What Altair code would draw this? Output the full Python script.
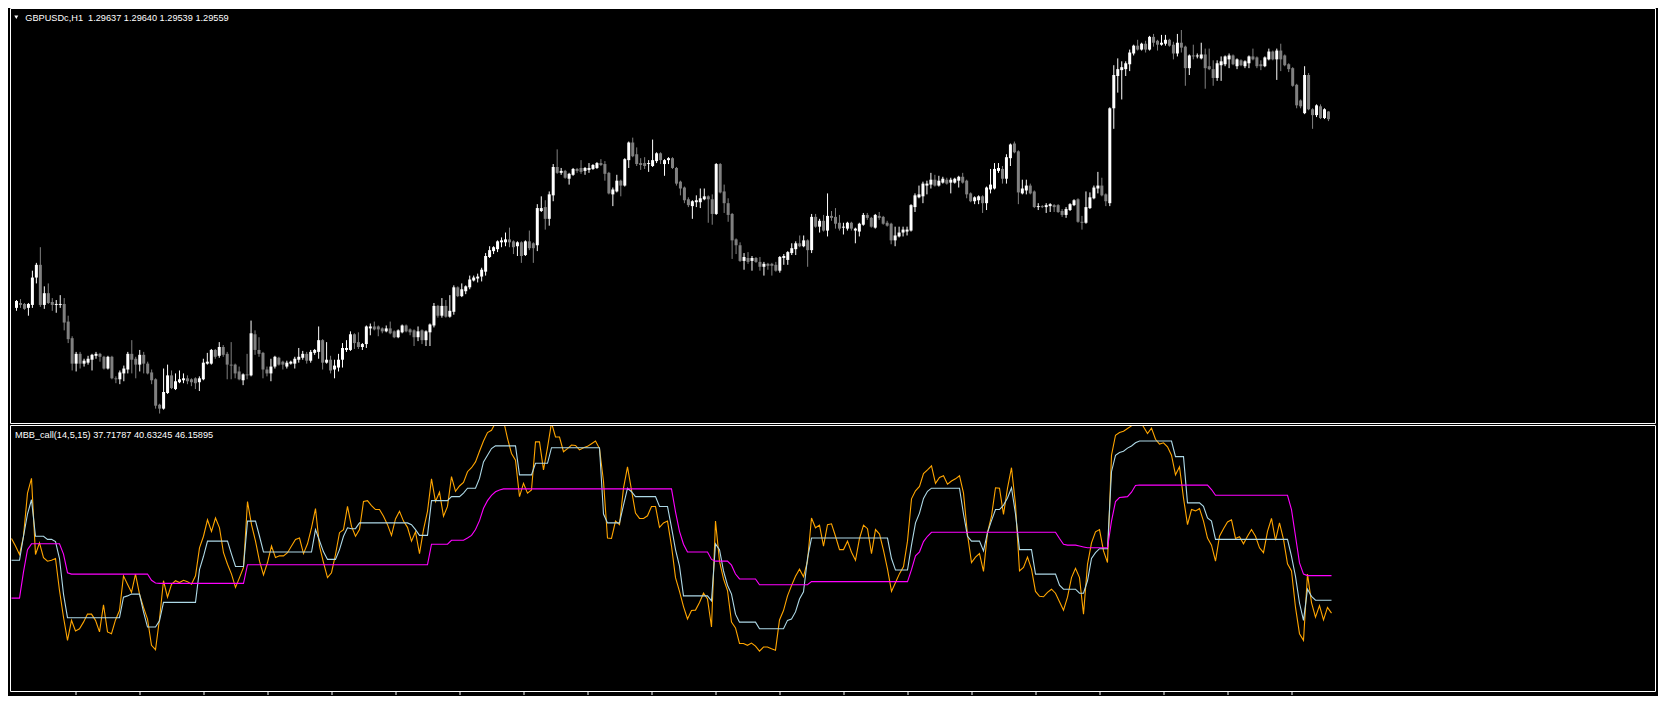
import altair as alt
import numpy as np
import pandas as pd

SYMBOL = "GBPUSDc,H1"
IND_NAME = "MBB_call(14,5,15)"

# GBPUSD H1 candles, prices in pips (price * 10000)
OPEN_PIPS = [
    12763, 12768, 12767, 12763, 12766, 12794, 12807, 12766, 12778, 12769,  # 0
    12766, 12766, 12767, 12749, 12732, 12706, 12716, 12706, 12707, 12710,  # 10
    12714, 12716, 12713, 12701, 12713, 12691, 12690, 12696, 12700, 12716,  # 20
    12711, 12705, 12715, 12706, 12697, 12690, 12664, 12660, 12676, 12694,  # 30
    12680, 12687, 12689, 12691, 12690, 12691, 12687, 12690, 12706, 12706,  # 40
    12720, 12714, 12723, 12716, 12705, 12705, 12698, 12689, 12695, 12694,  # 50
    12736, 12720, 12717, 12700, 12696, 12703, 12712, 12708, 12703, 12706,  # 60
    12706, 12710, 12712, 12716, 12709, 12717, 12718, 12730, 12707, 12710,  # 70
    12700, 12702, 12710, 12720, 12720, 12736, 12728, 12723, 12726, 12742,  # 80
    12744, 12744, 12742, 12739, 12742, 12739, 12733, 12738, 12745, 12741,  # 90
    12740, 12733, 12740, 12730, 12738, 12745, 12765, 12755, 12765, 12754,  # 100
    12759, 12784, 12775, 12780, 12784, 12791, 12793, 12795, 12800, 12815,  # 110
    12821, 12823, 12830, 12830, 12833, 12831, 12826, 12830, 12817, 12831,  # 120
    12829, 12827, 12862, 12866, 12854, 12878, 12907, 12901, 12903, 12895,  # 130
    12899, 12905, 12906, 12903, 12904, 12905, 12906, 12911, 12910, 12901,  # 140
    12879, 12882, 12893, 12888, 12914, 12932, 12920, 12911, 12911, 12910,  # 150
    12908, 12913, 12921, 12910, 12914, 12916, 12906, 12892, 12886, 12874,  # 160
    12867, 12871, 12871, 12874, 12877, 12874, 12859, 12910, 12882, 12870,  # 170
    12859, 12833, 12827, 12811, 12814, 12811, 12814, 12810, 12805, 12808,  # 180
    12808, 12807, 12801, 12814, 12812, 12819, 12823, 12829, 12826, 12832,  # 190
    12822, 12856, 12846, 12852, 12842, 12857, 12856, 12850, 12845, 12844,  # 200
    12850, 12842, 12841, 12848, 12858, 12855, 12845, 12857, 12856, 12850,  # 210
    12849, 12832, 12836, 12840, 12841, 12842, 12866, 12876, 12877, 12888,  # 220
    12889, 12894, 12888, 12891, 12894, 12891, 12891, 12893, 12897, 12893,  # 230
    12880, 12872, 12873, 12877, 12870, 12884, 12885, 12903, 12905, 12895,  # 240
    12916, 12931, 12923, 12880, 12883, 12888, 12882, 12866, 12867, 12866,  # 250
    12867, 12868, 12868, 12862, 12858, 12863, 12868, 12874, 12851, 12850,  # 260
    12865, 12875, 12885, 12888, 12879, 12870, 12967, 13000, 13006, 13007,  # 270
    13012, 13023, 13031, 13027, 13033, 13027, 13040, 13036, 13032, 13033,  # 280
    13037, 13032, 13023, 13034, 13030, 13008, 13021, 13020, 13018, 13022,  # 290
    13010, 13007, 12998, 13011, 13012, 13017, 13021, 13010, 13016, 13010,  # 300
    13013, 13020, 13019, 13012, 13010, 13017, 13025, 13017, 13026, 13021,  # 310
    13012, 13008, 12991, 12975, 12962, 13001, 12966, 12960, 12969, 12957,  # 320
    12963.7,  # 330
]
HIGH_PIPS = [
    12771, 12772, 12768, 12768, 12801, 12809, 12825, 12785, 12788, 12773,  # 0
    12771, 12776, 12773, 12755, 12734, 12718, 12718, 12711, 12714, 12716,  # 10
    12718, 12717, 12714, 12714, 12714, 12693, 12699, 12704, 12718, 12730,  # 20
    12713, 12720, 12718, 12708, 12700, 12691, 12665, 12701, 12705, 12699,  # 30
    12696, 12699, 12696, 12694, 12691, 12692, 12693, 12711, 12717, 12721,  # 40
    12721, 12728, 12725, 12718, 12728, 12706, 12703, 12696, 12716, 12750,  # 50
    12740, 12733, 12718, 12703, 12711, 12714, 12713, 12709, 12709, 12709,  # 60
    12713, 12722, 12719, 12718, 12720, 12721, 12744, 12731, 12728, 12714,  # 70
    12710, 12716, 12727, 12730, 12739, 12737, 12738, 12727, 12745, 12747,  # 80
    12749, 12745, 12743, 12745, 12749, 12740, 12741, 12746, 12746, 12742,  # 90
    12741, 12744, 12741, 12740, 12747, 12768, 12766, 12773, 12771, 12776,  # 100
    12786, 12785, 12788, 12786, 12796, 12796, 12798, 12804, 12819, 12826,  # 110
    12826, 12832, 12835, 12840, 12845, 12832, 12831, 12831, 12832, 12842,  # 120
    12830, 12869, 12877, 12873, 12882, 12910, 12925, 12906, 12904, 12901,  # 130
    12906, 12906, 12914, 12907, 12911, 12910, 12912, 12915, 12913, 12902,  # 140
    12886, 12899, 12894, 12916, 12933, 12937, 12927, 12916, 12917, 12914,  # 150
    12935, 12922, 12922, 12915, 12917, 12917, 12907, 12893, 12887, 12876,  # 160
    12873, 12878, 12885, 12885, 12878, 12879, 12911, 12911, 12889, 12875,  # 170
    12860, 12834, 12830, 12819, 12820, 12816, 12815, 12815, 12810, 12809,  # 180
    12809, 12810, 12816, 12818, 12821, 12829, 12831, 12837, 12837, 12833,  # 190
    12859, 12859, 12854, 12858, 12880, 12862, 12865, 12858, 12850, 12851,  # 200
    12851, 12845, 12850, 12860, 12860, 12856, 12859, 12861, 12857, 12852,  # 210
    12850, 12846, 12846, 12846, 12846, 12869, 12880, 12888, 12892, 12893,  # 220
    12901, 12899, 12898, 12897, 12896, 12896, 12896, 12898, 12901, 12894,  # 230
    12881, 12877, 12878, 12878, 12887, 12905, 12911, 12911, 12908, 12920,  # 240
    12931, 12933, 12924, 12894, 12894, 12890, 12883, 12870, 12868, 12870,  # 250
    12870, 12869, 12869, 12864, 12866, 12870, 12874, 12875, 12857, 12882,  # 260
    12881, 12888, 12902, 12896, 12880, 12968, 13011, 13018, 13015, 13015,  # 270
    13027, 13032, 13037, 13034, 13036, 13041, 13043, 13037, 13042, 13042,  # 280
    13038, 13035, 13043, 13047, 13031, 13022, 13032, 13023, 13034, 13028,  # 290
    13028, 13016, 13016, 13020, 13021, 13023, 13022, 13018, 13017, 13016,  # 300
    13021, 13028, 13020, 13016, 13020, 13028, 13026, 13028, 13033, 13022,  # 310
    13013, 13009, 12992, 12976, 13010, 13003, 12967, 12971, 12971, 12967,  # 320
    12964.0,  # 330
]
LOW_PIPS = [
    12760, 12763, 12761, 12755, 12763, 12788, 12764, 12762, 12767, 12760,  # 0
    12758, 12763, 12740, 12727, 12699, 12698, 12701, 12703, 12705, 12699,  # 10
    12711, 12708, 12700, 12700, 12690, 12686, 12685, 12688, 12696, 12696,  # 20
    12691, 12698, 12696, 12695, 12685, 12660, 12655, 12659, 12675, 12680,  # 30
    12679, 12686, 12686, 12685, 12683, 12680, 12678, 12689, 12705, 12705,  # 40
    12711, 12712, 12713, 12690, 12690, 12691, 12689, 12684, 12690, 12693,  # 50
    12715, 12713, 12691, 12693, 12688, 12701, 12704, 12700, 12701, 12705,  # 60
    12701, 12707, 12710, 12706, 12707, 12715, 12711, 12700, 12706, 12696,  # 70
    12691, 12698, 12702, 12718, 12719, 12721, 12721, 12720, 12722, 12735,  # 80
    12740, 12734, 12737, 12738, 12736, 12732, 12732, 12737, 12738, 12735,  # 90
    12724, 12729, 12726, 12724, 12724, 12743, 12753, 12753, 12753, 12753,  # 100
    12756, 12774, 12774, 12777, 12782, 12790, 12789, 12790, 12796, 12814,  # 110
    12818, 12820, 12825, 12826, 12825, 12818, 12816, 12809, 12816, 12822,  # 120
    12809, 12821, 12861, 12843, 12847, 12872, 12900, 12899, 12895, 12889,  # 130
    12898, 12901, 12900, 12899, 12901, 12904, 12905, 12908, 12893, 12879,  # 140
    12867, 12881, 12877, 12887, 12906, 12917, 12908, 12904, 12905, 12902,  # 150
    12907, 12911, 12910, 12898, 12910, 12905, 12888, 12878, 12870, 12866,  # 160
    12854, 12866, 12865, 12873, 12850, 12848, 12858, 12880, 12860, 12851,  # 170
    12813, 12818, 12810, 12802, 12808, 12801, 12809, 12801, 12796, 12802,  # 180
    12796, 12800, 12799, 12807, 12807, 12817, 12817, 12825, 12825, 12805,  # 190
    12819, 12845, 12840, 12841, 12836, 12852, 12844, 12842, 12838, 12842,  # 200
    12842, 12829, 12836, 12847, 12853, 12845, 12844, 12853, 12848, 12846,  # 210
    12828, 12826, 12835, 12836, 12837, 12841, 12861, 12875, 12870, 12879,  # 220
    12885, 12887, 12887, 12890, 12889, 12880, 12890, 12886, 12890, 12875,  # 230
    12871, 12869, 12869, 12860, 12863, 12880, 12884, 12901, 12890, 12890,  # 240
    12908, 12921, 12869, 12879, 12879, 12879, 12865, 12863, 12865, 12860,  # 250
    12861, 12861, 12860, 12856, 12855, 12862, 12867, 12850, 12843, 12849,  # 260
    12864, 12874, 12880, 12877, 12867, 12867, 12946, 12983, 12976, 13000,  # 270
    13005, 13021, 13026, 13026, 13024, 13026, 13030, 13026, 13031, 13031,  # 280
    13030, 13017, 13020, 13024, 12990, 13001, 13017, 13018, 13017, 12987,  # 290
    13006, 12990, 12995, 12995, 13010, 13008, 13011, 13007, 13010, 13008,  # 300
    13008, 13016, 13008, 13006, 13009, 13016, 13016, 12996, 13005, 13010,  # 310
    13004, 12989, 12967, 12967, 12961, 12965, 12946, 12958, 12956, 12956,  # 320
    12953.9,  # 330
]
CLOSE_PIPS = [
    12770, 12766, 12762, 12767, 12794, 12807, 12766, 12778, 12768, 12766,  # 0
    12767, 12767, 12748, 12731, 12706, 12716, 12706, 12709, 12711, 12715,  # 10
    12716, 12713, 12701, 12713, 12691, 12690, 12697, 12701, 12716, 12710,  # 20
    12705, 12715, 12706, 12696, 12689, 12663, 12660, 12677, 12694, 12681,  # 30
    12688, 12690, 12691, 12688, 12687, 12686, 12691, 12707, 12708, 12720,  # 40
    12713, 12723, 12715, 12705, 12704, 12696, 12690, 12695, 12694, 12737,  # 50
    12720, 12716, 12700, 12696, 12703, 12713, 12705, 12705, 12707, 12708,  # 60
    12711, 12713, 12716, 12709, 12718, 12720, 12730, 12707, 12710, 12699,  # 70
    12704, 12710, 12722, 12722, 12736, 12727, 12723, 12726, 12744, 12744,  # 80
    12741, 12741, 12739, 12742, 12737, 12733, 12740, 12745, 12739, 12738,  # 90
    12733, 12739, 12730, 12739, 12746, 12765, 12755, 12765, 12754, 12760,  # 100
    12784, 12775, 12782, 12785, 12792, 12794, 12795, 12802, 12816, 12822,  # 110
    12825, 12831, 12832, 12833, 12830, 12825, 12830, 12816, 12831, 12824,  # 120
    12824, 12865, 12865, 12854, 12879, 12907, 12901, 12903, 12896, 12900,  # 130
    12905, 12903, 12902, 12906, 12906, 12909, 12911, 12909, 12900, 12880,  # 140
    12884, 12893, 12888, 12915, 12932, 12918, 12910, 12909, 12908, 12911,  # 150
    12914, 12921, 12914, 12914, 12916, 12906, 12890, 12885, 12873, 12868,  # 160
    12872, 12873, 12875, 12877, 12874, 12859, 12910, 12881, 12870, 12858,  # 170
    12832, 12827, 12811, 12815, 12810, 12814, 12810, 12805, 12808, 12806,  # 180
    12806, 12801, 12815, 12816, 12820, 12824, 12829, 12826, 12832, 12822,  # 190
    12856, 12846, 12852, 12842, 12857, 12855, 12849, 12844, 12846, 12850,  # 200
    12844, 12844, 12849, 12858, 12855, 12846, 12858, 12855, 12849, 12847,  # 210
    12832, 12837, 12840, 12843, 12843, 12868, 12878, 12879, 12890, 12890,  # 220
    12894, 12888, 12893, 12895, 12890, 12894, 12895, 12897, 12891, 12879,  # 230
    12872, 12876, 12877, 12870, 12886, 12889, 12905, 12906, 12895, 12917,  # 240
    12930, 12922, 12881, 12885, 12888, 12880, 12866, 12867, 12866, 12868,  # 250
    12869, 12866, 12861, 12858, 12864, 12869, 12873, 12851, 12850, 12866,  # 260
    12876, 12886, 12888, 12878, 12872, 12967, 13001, 13007, 13009, 13013,  # 270
    13024, 13031, 13027, 13033, 13027, 13040, 13034, 13032, 13034, 13037,  # 280
    13031, 13023, 13034, 13029, 13008, 13021, 13020, 13021, 13022, 13008,  # 290
    13007, 12998, 13013, 13015, 13020, 13021, 13012, 13017, 13011, 13015,  # 300
    13020, 13017, 13010, 13010, 13019, 13025, 13017, 13026, 13017, 13011,  # 310
    13007, 12990, 12970, 12969, 13001, 12966, 12960, 12970, 12957, 12966,  # 320
    12955.9,  # 330
]

# MBB_call indicator buffers
ORANGE = [
    54.5, 52.8, 50.9, 55.0, 64.7, 68.0, 50.9, 53.5, 50.2, 49.4,  # 0
    49.6, 50.0, 42.8, 36.8, 31.6, 36.1, 33.7, 34.2, 35.7, 37.5,  # 10
    37.5, 36.1, 33.5, 39.6, 33.5, 33.1, 36.2, 38.3, 46.1, 44.2,  # 20
    42.4, 46.5, 42.0, 39.0, 36.4, 30.5, 29.5, 36.4, 45.0, 41.3,  # 30
    44.2, 45.0, 44.6, 45.1, 44.8, 44.2, 46.1, 52.4, 55.0, 58.7,  # 40
    56.1, 59.1, 56.9, 51.3, 48.7, 46.5, 43.5, 45.7, 48.0, 62.8,  # 50
    57.6, 53.9, 49.4, 46.3, 49.1, 52.8, 50.2, 50.6, 50.6, 51.3,  # 60
    52.8, 54.3, 54.6, 51.1, 53.3, 56.9, 61.2, 52.8, 49.1, 45.7,  # 70
    46.8, 50.9, 55.8, 56.5, 61.7, 57.2, 55.0, 56.5, 62.8, 63.0,  # 80
    61.9, 61.0, 61.0, 59.5, 57.6, 55.2, 58.9, 60.6, 58.4, 57.0,  # 90
    53.9, 56.0, 51.1, 56.5, 60.6, 67.9, 62.8, 64.9, 59.5, 61.7,  # 100
    68.4, 65.1, 66.3, 67.1, 69.5, 70.4, 71.7, 74.1, 76.4, 78.3,  # 110
    78.8, 80.5, 82.0, 81.0, 77.0, 73.6, 72.1, 63.9, 66.9, 64.7,  # 120
    65.4, 76.2, 76.2, 69.9, 74.9, 80.5, 77.3, 77.3, 74.0, 74.7,  # 130
    75.5, 75.4, 74.4, 74.9, 75.2, 75.8, 76.4, 74.7, 67.3, 54.6,  # 140
    54.5, 58.4, 57.6, 65.8, 70.6, 65.4, 60.2, 59.0, 59.0, 59.6,  # 150
    61.7, 61.7, 57.0, 58.0, 58.4, 52.8, 45.7, 42.6, 39.2, 36.4,  # 160
    38.3, 38.4, 40.1, 42.2, 40.9, 34.6, 58.4, 49.4, 45.4, 42.8,  # 170
    35.7, 34.4, 30.9, 30.9, 30.5, 31.0, 30.3, 29.2, 30.1, 30.1,  # 180
    29.7, 29.4, 36.2, 38.3, 41.6, 43.9, 46.0, 47.6, 45.9, 49.4,  # 190
    59.1, 56.9, 57.5, 52.8, 57.6, 57.8, 55.0, 52.0, 52.0, 53.9,  # 200
    51.4, 49.6, 54.5, 57.5, 56.7, 51.1, 56.5, 55.5, 51.8, 47.6,  # 210
    42.6, 44.6, 46.6, 48.2, 53.9, 63.4, 65.2, 66.2, 69.1, 69.9,  # 220
    70.8, 66.9, 68.2, 68.6, 66.7, 67.4, 67.9, 68.6, 64.7, 55.4,  # 230
    49.1, 50.3, 51.1, 47.1, 55.8, 59.5, 65.9, 65.8, 59.9, 65.8,  # 240
    70.4, 62.1, 47.2, 48.0, 50.3, 47.6, 42.6, 41.5, 41.4, 42.4,  # 250
    43.1, 42.2, 40.3, 38.4, 41.3, 45.7, 47.8, 45.7, 37.5, 48.7,  # 260
    53.5, 56.0, 56.5, 51.7, 49.1, 73.2, 77.7, 78.3, 78.6, 79.2,  # 270
    79.8, 80.5, 81.0, 79.6, 78.1, 79.3, 76.8, 75.7, 76.0, 75.1,  # 280
    73.2, 68.8, 70.6, 63.6, 57.6, 61.0, 60.7, 61.2, 58.4, 54.6,  # 290
    53.0, 49.4, 55.0, 56.7, 58.2, 58.7, 54.5, 54.9, 53.3, 55.0,  # 300
    56.5, 55.0, 52.4, 51.3, 56.1, 59.0, 54.1, 58.0, 54.3, 48.8,  # 310
    47.2, 39.0, 33.1, 31.6, 46.5, 40.1, 36.8, 39.4, 36.2, 39.0,  # 320
    37.71787,  # 330
]
LIGHTBLUE = [
    49.6, 49.6, 49.6, 55.0, 60.0, 63.2, 55.0, 55.0, 55.0, 54.3,  # 0
    54.3, 53.8, 50.0, 42.0, 36.7, 36.7, 36.7, 36.7, 36.7, 36.7,  # 10
    36.7, 36.7, 36.7, 36.7, 36.7, 36.7, 36.7, 36.7, 41.3, 41.6,  # 20
    42.0, 42.0, 42.0, 38.0, 34.6, 34.6, 34.6, 36.0, 40.15, 40.15,  # 30
    40.15, 40.15, 40.15, 40.15, 40.15, 40.15, 40.15, 47.5, 50.5, 53.9,  # 40
    53.9, 53.9, 53.9, 53.9, 53.9, 51.0, 48.2, 48.2, 48.2, 58.4,  # 50
    58.4, 58.4, 55.0, 51.45, 51.45, 51.45, 51.45, 51.45, 51.45, 51.45,  # 60
    51.45, 51.45, 51.45, 51.45, 51.45, 51.45, 56.5, 54.0, 51.5, 49.8,  # 70
    49.8, 49.8, 52.0, 55.0, 56.9, 56.7, 56.7, 58.0, 58.0, 58.0,  # 80
    58.0, 58.0, 58.0, 58.0, 58.0, 58.0, 58.0, 58.0, 58.0, 58.0,  # 90
    57.6, 56.5, 55.2, 55.2, 55.2, 63.0, 63.0, 63.0, 63.0, 63.0,  # 100
    63.9, 63.9, 63.9, 64.7, 65.8, 65.8, 65.8, 68.0, 71.7, 73.2,  # 110
    74.7, 75.3, 75.3, 75.3, 75.3, 75.3, 75.3, 68.8, 68.8, 68.8,  # 120
    68.8, 71.4, 71.4, 71.4, 71.4, 74.9, 74.9, 74.9, 74.9, 74.9,  # 130
    74.9, 74.9, 74.9, 74.9, 74.9, 74.9, 74.9, 74.9, 60.0, 58.0,  # 140
    58.0, 58.0, 58.0, 62.0, 65.8, 65.0, 63.9, 63.9, 63.9, 63.9,  # 150
    63.9, 63.9, 61.7, 61.7, 61.7, 57.0, 52.0, 48.3, 41.6, 41.6,  # 160
    41.6, 41.6, 41.6, 41.6, 41.6, 40.5, 53.3, 52.0, 47.2, 44.0,  # 170
    42.0, 37.5, 35.7, 35.7, 35.7, 35.7, 35.7, 34.2, 34.2, 34.2,  # 180
    34.2, 34.2, 34.2, 34.2, 36.1, 36.4, 38.0, 40.9, 42.5, 50.0,  # 190
    54.6, 54.6, 54.6, 54.6, 54.6, 54.6, 54.6, 54.6, 54.6, 54.6,  # 200
    54.6, 54.6, 54.6, 54.6, 54.6, 54.6, 54.6, 54.6, 54.6, 54.6,  # 210
    50.0, 47.4, 47.4, 47.4, 47.4, 53.0, 58.0, 60.2, 63.5, 65.1,  # 220
    65.8, 65.8, 65.8, 65.8, 65.8, 65.8, 65.8, 65.8, 60.0, 55.0,  # 230
    53.9, 53.9, 53.9, 51.7, 55.8, 58.5, 61.0, 61.0, 62.0, 63.6,  # 240
    65.9, 60.0, 52.0, 52.0, 52.0, 52.0, 46.5, 46.5, 46.5, 46.5,  # 250
    46.5, 46.5, 44.0, 43.1, 43.1, 43.1, 43.1, 42.2, 42.2, 45.0,  # 260
    50.0, 51.3, 52.2, 52.2, 52.2, 69.5, 73.2, 73.8, 74.1, 74.8,  # 270
    75.3, 76.0, 76.4, 76.4, 76.4, 76.4, 76.4, 76.4, 76.4, 76.4,  # 280
    76.4, 72.9, 72.9, 72.9, 62.5, 62.5, 62.5, 62.5, 61.7, 59.1,  # 290
    58.4, 54.3, 54.3, 54.3, 54.3, 54.3, 54.3, 54.3, 54.3, 54.3,  # 300
    54.3, 54.3, 54.3, 54.3, 54.3, 54.3, 54.3, 54.3, 54.3, 54.3,  # 310
    50.5, 46.0, 40.0, 36.1, 43.1, 41.5, 40.63245, 40.63245, 40.63245, 40.63245,  # 320
    40.63245,  # 330
]
MAGENTA = [
    41.1, 41.1, 41.1, 47.0, 52.0, 53.3, 53.3, 53.3, 53.3, 53.3,  # 0
    53.3, 53.3, 53.3, 51.0, 46.8, 46.5, 46.5, 46.5, 46.5, 46.5,  # 10
    46.5, 46.5, 46.5, 46.5, 46.5, 46.5, 46.5, 46.5, 46.5, 46.5,  # 20
    46.5, 46.5, 46.5, 46.5, 46.5, 45.1, 44.5, 44.4, 44.4, 44.4,  # 30
    44.4, 44.4, 44.4, 44.4, 44.4, 44.4, 44.4, 44.4, 44.4, 44.4,  # 40
    44.4, 44.4, 44.4, 44.4, 44.4, 44.4, 44.4, 44.4, 44.4, 48.6,  # 50
    48.6, 48.6, 48.6, 48.6, 48.6, 48.6, 48.6, 48.6, 48.6, 48.6,  # 60
    48.6, 48.6, 48.6, 48.6, 48.6, 48.6, 48.6, 48.6, 48.6, 48.6,  # 70
    48.6, 48.6, 48.6, 48.6, 48.6, 48.6, 48.6, 48.6, 48.6, 48.6,  # 80
    48.6, 48.6, 48.6, 48.6, 48.6, 48.6, 48.6, 48.6, 48.6, 48.6,  # 90
    48.6, 48.6, 48.6, 48.6, 48.6, 53.2, 53.2, 53.2, 53.2, 53.2,  # 100
    54.1, 54.1, 54.1, 54.1, 54.6, 55.2, 56.5, 58.5, 61.3, 63.0,  # 110
    64.2, 65.0, 65.4, 65.65, 65.65, 65.65, 65.65, 65.65, 65.65, 65.65,  # 120
    65.65, 65.65, 65.65, 65.65, 65.65, 65.65, 65.65, 65.65, 65.65, 65.65,  # 130
    65.65, 65.65, 65.65, 65.65, 65.65, 65.65, 65.65, 65.65, 65.65, 65.65,  # 140
    65.65, 65.65, 65.65, 65.65, 65.65, 65.65, 65.65, 65.65, 65.65, 65.65,  # 150
    65.65, 65.65, 65.65, 65.65, 65.65, 65.65, 60.5, 56.1, 53.2, 51.45,  # 160
    51.45, 51.45, 51.45, 51.45, 51.45, 49.8, 49.4, 49.4, 49.4, 49.4,  # 170
    48.5, 46.5, 45.4, 45.4, 45.4, 45.4, 45.4, 44.1, 44.1, 44.1,  # 180
    44.1, 44.1, 44.1, 44.1, 44.1, 44.1, 44.1, 44.1, 44.1, 44.1,  # 190
    44.8, 44.8, 44.8, 44.8, 44.8, 44.8, 44.8, 44.8, 44.8, 44.8,  # 200
    44.8, 44.8, 44.8, 44.8, 44.8, 44.8, 44.8, 44.8, 44.8, 44.8,  # 210
    44.8, 44.8, 44.8, 44.8, 44.8, 47.5, 50.6, 51.5, 53.8, 55.0,  # 220
    55.9, 55.9, 55.9, 55.9, 55.9, 55.9, 55.9, 55.9, 55.9, 55.9,  # 230
    55.9, 55.9, 55.9, 55.9, 55.9, 55.9, 55.9, 55.9, 55.9, 55.9,  # 240
    55.9, 55.9, 55.9, 55.9, 55.9, 55.9, 55.9, 55.9, 55.9, 55.9,  # 250
    55.9, 55.9, 54.5, 53.2, 53.0, 53.0, 53.0, 52.8, 52.6, 52.4,  # 260
    52.4, 52.4, 52.4, 52.4, 52.4, 58.4, 62.8, 63.7, 63.8, 63.9,  # 270
    64.9, 66.4, 66.5, 66.5, 66.5, 66.5, 66.5, 66.5, 66.5, 66.5,  # 280
    66.5, 66.5, 66.5, 66.5, 66.5, 66.5, 66.5, 66.5, 66.5, 66.5,  # 290
    65.5, 64.2, 64.2, 64.2, 64.2, 64.2, 64.2, 64.2, 64.2, 64.2,  # 300
    64.2, 64.2, 64.2, 64.2, 64.2, 64.2, 64.2, 64.2, 64.2, 64.2,  # 310
    61.0, 55.0, 49.0, 46.5, 46.15895, 46.15895, 46.15895, 46.15895, 46.15895, 46.15895,  # 320
    46.15895,  # 330
]

TICK_BARS = [16, 32, 48, 64, 80, 96, 112, 128, 144, 160,
             176, 192, 208, 224, 240, 256, 272, 288, 304, 320]

N = len(CLOSE_PIPS)
for _name, _arr in [("open", OPEN_PIPS), ("high", HIGH_PIPS), ("low", LOW_PIPS),
                    ("orange", ORANGE), ("lightblue", LIGHTBLUE), ("magenta", MAGENTA)]:
    assert len(_arr) == N, f"{_name}: {len(_arr)} values, expected {N}"

# ---------------------------------------------------------------- layout
W = 1646
H1 = 416
H2 = 267
BULL = "#ffffff"
BEAR = "#808080"
C_ORANGE = "#FFA500"
C_LIGHTBLUE = "#ADD8E6"
C_MAGENTA = "#FF00FF"
FONT = "Liberation Sans"
FONT_SIZE = 9.2

bars = np.arange(N)
candles = pd.DataFrame({
    "bar": bars,
    "open": np.array(OPEN_PIPS) / 10000.0,
    "high": np.array(HIGH_PIPS) / 10000.0,
    "low": np.array(LOW_PIPS) / 10000.0,
    "close": np.array(CLOSE_PIPS) / 10000.0,
})
candles["dir"] = np.where(candles["close"] >= candles["open"], "up", "down")

ind = pd.DataFrame({"bar": bars, "orange": ORANGE, "lightblue": LIGHTBLUE, "magenta": MAGENTA})

x_scale = alt.Scale(domain=[-0.375, (W - 1.5) / 4.0], nice=False, zero=False)
price_scale = alt.Scale(domain=[1.26443, 1.30695], nice=False, zero=False)
ind_scale = alt.Scale(domain=[20, 80], nice=False, zero=False)
dir_scale = alt.Scale(domain=["up", "down"], range=[BULL, BEAR])

top_label = "{}\u00a0 {:.5f} {:.5f} {:.5f} {:.5f}".format(
    SYMBOL, OPEN_PIPS[-1] / 10000.0, HIGH_PIPS[-1] / 10000.0,
    LOW_PIPS[-1] / 10000.0, CLOSE_PIPS[-1] / 10000.0)
bottom_label = "{} {:.5f} {:.5f} {:.5f}".format(IND_NAME, ORANGE[-1], LIGHTBLUE[-1], MAGENTA[-1])

one = pd.DataFrame({"k": [0]})


def frame(h):
    return alt.Chart(one).mark_rect(filled=False, stroke="white", strokeWidth=1).encode(
        x=alt.value(0.5), x2=alt.value(W - 0.5), y=alt.value(0.5), y2=alt.value(h - 0.5))


X_top = alt.X("bar:Q", scale=x_scale, axis=None)
wicks = alt.Chart(candles).mark_rule(strokeWidth=1).encode(
    x=X_top,
    y=alt.Y("low:Q", scale=price_scale, axis=None),
    y2="high:Q",
    color=alt.Color("dir:N", scale=dir_scale, legend=None),
)
bodies = alt.Chart(candles).mark_bar(size=3).encode(
    x=X_top,
    y=alt.Y("open:Q", scale=price_scale, axis=None),
    y2="close:Q",
    color=alt.Color("dir:N", scale=dir_scale, legend=None),
)
tri = alt.Chart(one).mark_point(shape="triangle-down", filled=True, size=16,
                                color="white", opacity=1).encode(
    x=alt.value(6.3), y=alt.value(9.3))
t1 = alt.Chart(pd.DataFrame({"t": [top_label]})).mark_text(
    align="left", baseline="alphabetic", font=FONT, fontSize=FONT_SIZE, color="white").encode(
    x=alt.value(15.3), y=alt.value(12.8), text="t:N")

top = alt.layer(wicks, bodies, frame(H1), tri, t1).properties(width=W, height=H1)

x_axis = alt.Axis(values=TICK_BARS, labels=False, domain=False, grid=False, ticks=True,
                  tickColor="white", tickSize=3, tickWidth=1, title=None,
                  translate=0, minExtent=0, maxExtent=3)
X_bot = alt.X("bar:Q", scale=x_scale, axis=x_axis)


def ind_line(field, col):
    return alt.Chart(ind).mark_line(strokeWidth=1.1, clip=True, color=col).encode(
        x=X_bot, y=alt.Y(f"{field}:Q", scale=ind_scale, axis=None))


t2 = alt.Chart(pd.DataFrame({"t": [bottom_label]})).mark_text(
    align="left", baseline="alphabetic", font=FONT, fontSize=FONT_SIZE, color="white").encode(
    x=alt.value(5.0), y=alt.value(13.2), text="t:N")

bottom = alt.layer(
    ind_line("orange", C_ORANGE),
    ind_line("lightblue", C_LIGHTBLUE),
    ind_line("magenta", C_MAGENTA),
    frame(H2), t2,
).properties(width=W, height=H2)

chart = alt.vconcat(top, bottom, spacing=1).properties(
    background="black",
    padding={"left": 2, "top": 0, "right": 2, "bottom": 0},
).configure_view(strokeWidth=0)

chart.save("out.html", embed_options={"renderer": "svg", "actions": False})
